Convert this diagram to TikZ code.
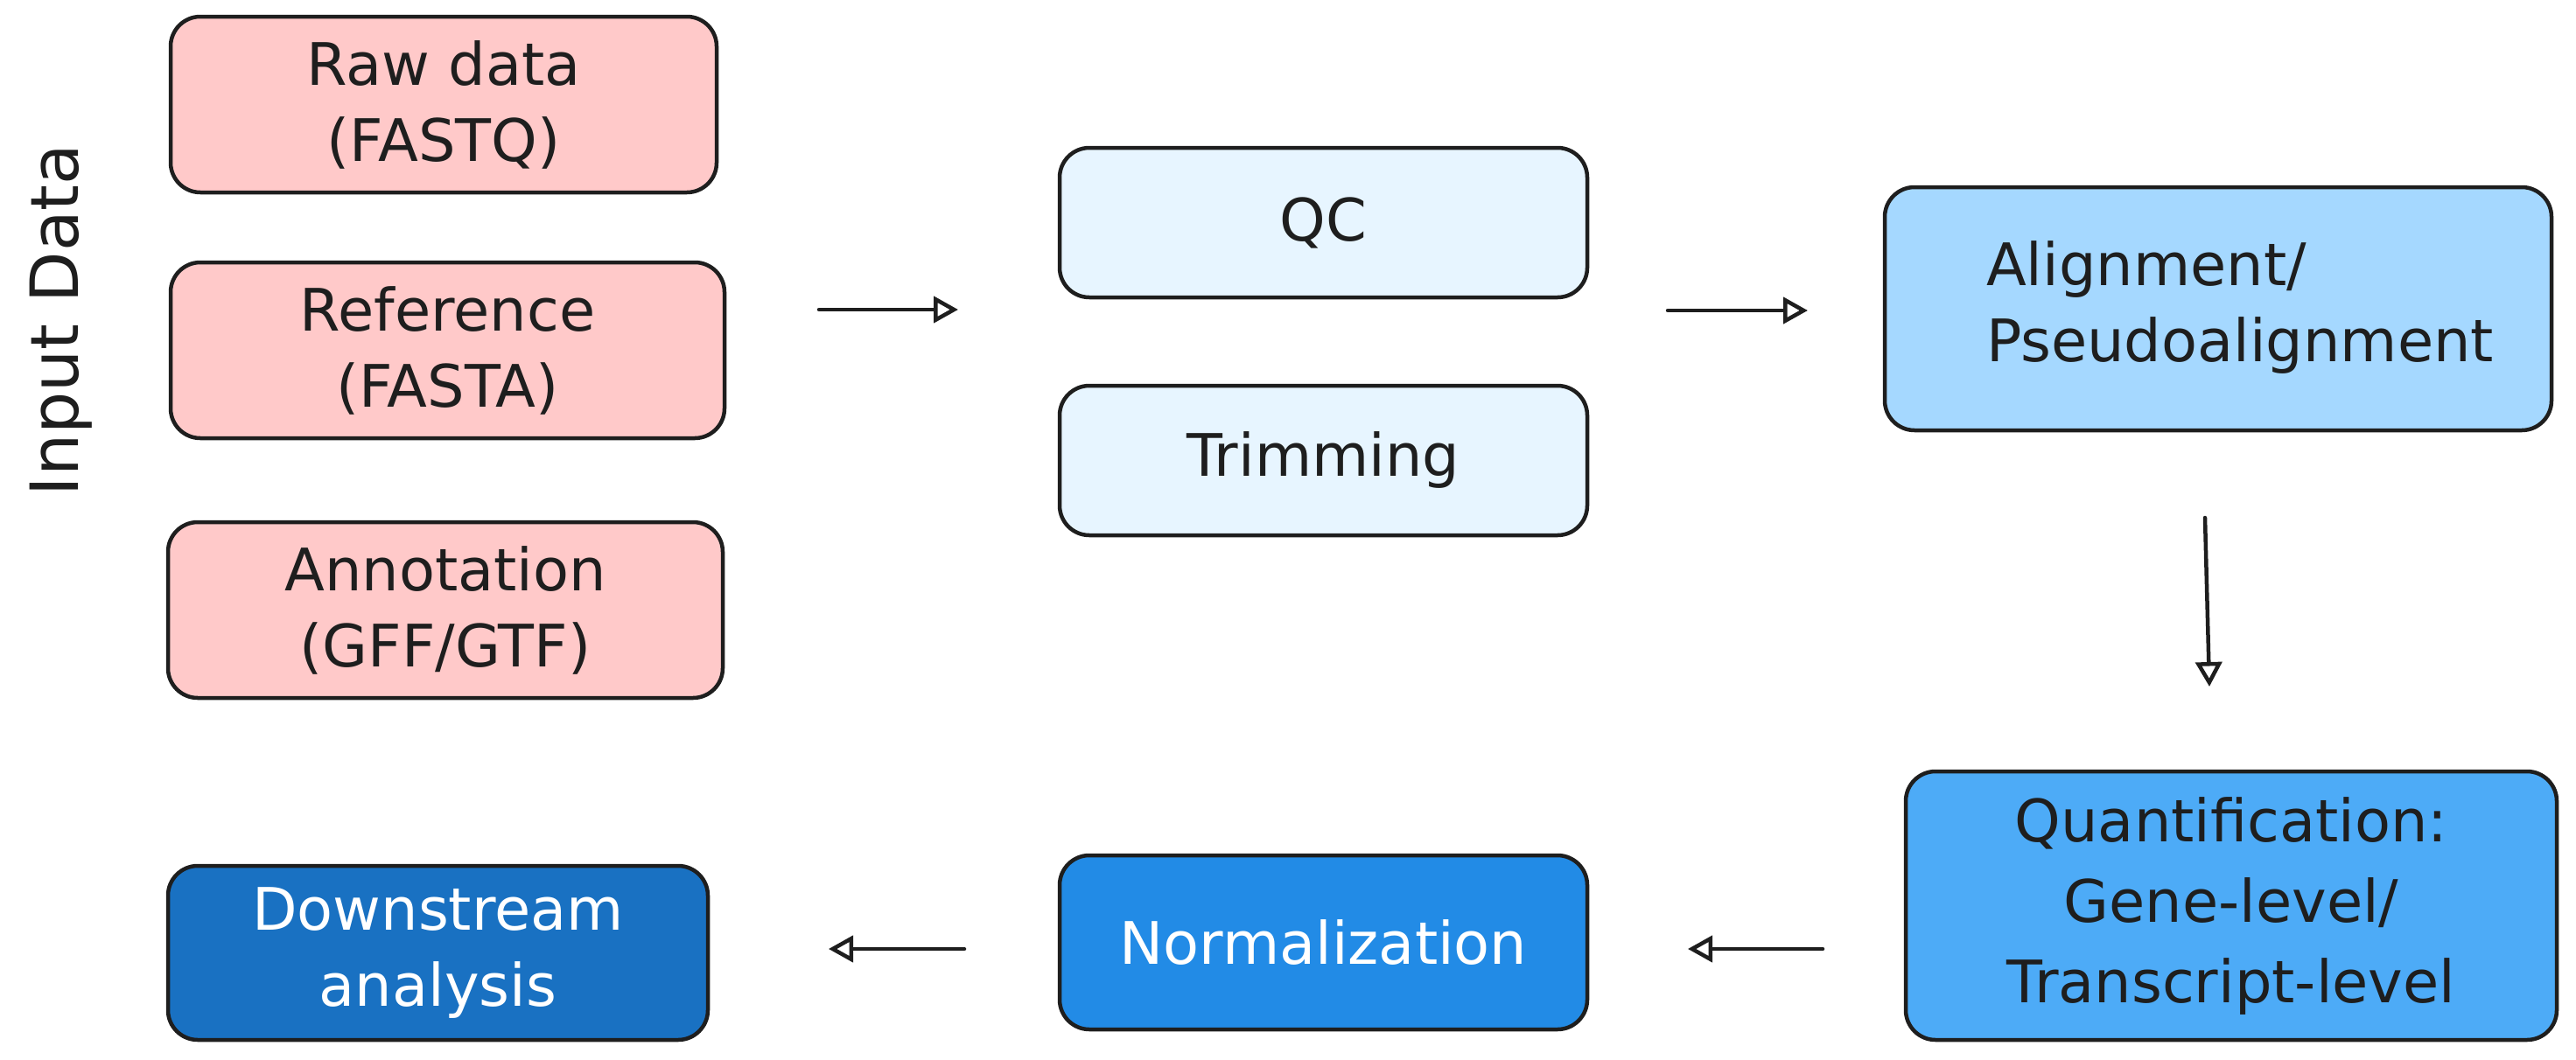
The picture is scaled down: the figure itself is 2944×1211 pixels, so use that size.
\documentclass[tikz,border=0pt]{standalone}
\usepackage{fontspec}
\setmainfont{DejaVu Sans}
\usetikzlibrary{arrows.meta}
\definecolor{pinkf}{HTML}{FFC9C9}
\definecolor{paleb}{HTML}{E7F5FF}
\definecolor{lightb}{HTML}{A5D8FF}
\definecolor{midb}{HTML}{4DABF7}
\definecolor{strongb}{HTML}{228BE6}
\definecolor{darkb}{HTML}{1971C2}
\definecolor{ink}{HTML}{1E1E1E}
\tikzset{
  box/.style={draw=ink, line width=4.5pt, rounded corners=34pt, align=center,
    inner sep=0pt, font=\fontsize{67}{87}\selectfont, text=ink},
  flow/.style={draw=ink, line width=4.5pt, line cap=round,
    -{Triangle[fill=white, length=28pt, width=30pt, line width=4.5pt]}},
}
\begin{document}
\begin{tikzpicture}[x=1pt, y=-1pt]
\useasboundingbox (0,0) rectangle (2944,1211);
% input boxes
\node[box, fill=pinkf, minimum width=624pt, minimum height=201pt] (raw) at (507,119.5) {Raw data\\(FASTQ)};
\node[box, fill=pinkf, minimum width=633pt, minimum height=201pt] (ref) at (511.5,400.5) {Reference\\(FASTA)};
\node[box, fill=pinkf, minimum width=634pt, minimum height=201pt] (ann) at (509,697.5) {Annotation\\(GFF/GTF)};
\node[font=\fontsize{76}{90}\selectfont, text=ink, rotate=90, inner sep=0pt] (inlabel) at (70,366) {Input Data};
% preprocessing
\node[box, fill=paleb, minimum width=603pt, minimum height=171pt] (qc) at (1512.5,254.5) {QC};
\node[box, fill=paleb, minimum width=603pt, minimum height=171pt] (trim) at (1512.5,526.5) {Trimming};
% alignment
\node[box, fill=lightb, minimum width=762pt, minimum height=278pt] (align) at (2535,353)
  {\hspace*{50pt}\begin{tabular}{@{}l@{}}Alignment/\\Pseudoalignment\end{tabular}};
\node[box, fill=midb, minimum width=744pt, minimum height=307pt, font=\fontsize{67}{92}\selectfont] (quant) at (2550,1035.5) {Quantification:\\Gene-level/\\Transcript-level};
\node[box, fill=strongb, text=white, minimum width=603pt, minimum height=199pt] (norm) at (1512.5,1077.5) {Normalization};
\node[box, fill=darkb, text=white, minimum width=617pt, minimum height=199pt] (down) at (500.5,1089.5) {Downstream\\analysis};
% arrow ends
\coordinate (a1s) at (936,354);
\coordinate (a1e) at (1095,354);
\coordinate (a2s) at (1906,355);
\coordinate (a2e) at (2066,355);
\coordinate (a3s) at (2520,592);
\coordinate (a3e) at (2525,785);
\coordinate (a4s) at (2083,1085);
\coordinate (a4e) at (1929,1085);
\coordinate (a5s) at (1102,1085);
\coordinate (a5e) at (947,1085);
\draw[flow] (a1s) -- (a1e);
\draw[flow] (a2s) -- (a2e);
\draw[flow] (a3s) -- (a3e);
\draw[flow] (a4s) -- (a4e);
\draw[flow] (a5s) -- (a5e);
\end{tikzpicture}
\end{document}
